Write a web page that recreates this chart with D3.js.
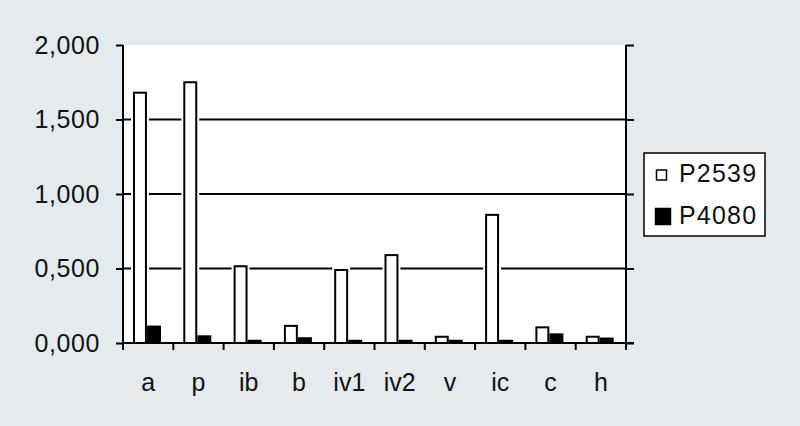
<!DOCTYPE html>
<html>
<head>
<meta charset="utf-8">
<script src="https://cdn.jsdelivr.net/npm/d3@7"></script>
<style>
  body { margin: 0; background: #e5eaef; }
  svg { display: block; }
</style>
</head>
<body>
<div id="chart"></div>
<script>
var categories = ["a", "p", "ib", "b", "iv1", "iv2", "v", "ic", "c", "h"];
var seriesNames = ["P2539", "P4080"];
var p2539 = [1.68, 1.75, 0.515, 0.115, 0.49, 0.59, 0.042, 0.86, 0.105, 0.042];
var p4080 = [0.11, 0.045, 0.015, 0.032, 0.015, 0.015, 0.015, 0.015, 0.058, 0.03];
var yTicks = [0, 0.5, 1.0, 1.5, 2.0];

function init(){
    var w = 800;
    var h = 426;
    var left = 123, right = 626, top = 45, bottom = 343;
    var font = "'Liberation Sans', Arial, sans-serif";

    var svg = d3.select("#chart")
                .append("svg")
                .attr("width", w)
                .attr("height", h);

    var xScale = d3.scaleBand()
                    .domain(categories)
                    .range([left, right]);
    var xInner = d3.scaleBand()
                    .domain(seriesNames)
                    .range([11, 37])
                    .paddingInner(0.15);
    var yScale = d3.scaleLinear()
                    .domain([0, 2])
                    .range([bottom, top]);

    var fmt = function(d){ return d3.format(",.3f")(d).replace(".", ","); };

    // plot area
    svg.append("rect")
        .attr("x", left).attr("y", top)
        .attr("width", right - left).attr("height", bottom - top)
        .attr("fill", "white");

    // gridlines
    svg.selectAll("line.grid")
        .data(yTicks.filter(function(d){ return d > 0 && d < 2; }))
        .enter()
        .append("line")
        .attr("class", "grid")
        .attr("x1", left).attr("x2", right)
        .attr("y1", function(d){ return yScale(d); })
        .attr("y2", function(d){ return yScale(d); })
        .attr("stroke", "black")
        .attr("stroke-width", 2);

    var rows = categories.map(function(c, i){
        return [{cat: c, s: "P2539", v: p2539[i]}, {cat: c, s: "P4080", v: p4080[i]}];
    });
    var bars = d3.merge(rows);

    // white halo behind bars (gridlines broken around bars)
    svg.selectAll("rect.halo")
        .data(bars)
        .enter()
        .append("rect")
        .attr("class", "halo")
        .attr("x", function(d){ return xScale(d.cat) + xInner(d.s) - 3; })
        .attr("y", function(d){ return yScale(d.v) - 3; })
        .attr("width", xInner.bandwidth() + 6)
        .attr("height", function(d){ return bottom - yScale(d.v) + 3; })
        .attr("fill", "white");

    svg.selectAll("rect.bar")
        .data(bars)
        .enter()
        .append("rect")
        .attr("class", "bar")
        .attr("x", function(d){ return xScale(d.cat) + xInner(d.s); })
        .attr("y", function(d){ return yScale(d.v); })
        .attr("width", xInner.bandwidth())
        .attr("height", function(d){ return bottom - yScale(d.v); })
        .attr("fill", function(d){ return d.s == "P2539" ? "white" : "black"; })
        .attr("stroke", "black")
        .attr("stroke-width", 2);

    // left axis
    var yAxis = d3.axisLeft(yScale)
                    .tickValues(yTicks)
                    .tickSize(7)
                    .tickPadding(16)
                    .tickFormat(fmt);
    var gy = svg.append("g")
                .attr("transform", "translate(" + left + ",0)")
                .call(yAxis);
    gy.select(".domain").attr("d", "M0," + top + "V" + bottom).attr("stroke-width", 2);
    gy.selectAll(".tick line").attr("stroke-width", 2);
    gy.selectAll(".tick text")
        .attr("font-family", font)
        .attr("font-size", "25px")
        .attr("letter-spacing", "0.6px")
        .attr("fill", "#111");

    // right axis (ticks only)
    var yAxisR = d3.axisRight(yScale)
                    .tickValues(yTicks)
                    .tickSize(8)
                    .tickFormat("");
    var gr = svg.append("g")
                .attr("transform", "translate(" + right + ",0)")
                .call(yAxisR);
    gr.select(".domain").attr("d", "M0," + top + "V" + bottom).attr("stroke-width", 2);
    gr.selectAll(".tick line").attr("stroke-width", 2);

    // bottom axis
    var xAxis = d3.axisBottom(xScale)
                    .tickSize(0)
                    .tickPadding(30);
    var gx = svg.append("g")
                .attr("transform", "translate(0," + bottom + ")")
                .call(xAxis);
    gx.select(".domain").attr("d", "M" + left + ",0H" + (right + 8)).attr("stroke-width", 2);
    gx.selectAll(".tick text")
        .attr("font-family", font)
        .attr("font-size", "25px")
        .attr("fill", "#111");

    // category separators
    svg.selectAll("line.sep")
        .data(categories.concat(["end"]))
        .enter()
        .append("line")
        .attr("class", "sep")
        .attr("x1", function(d, i){ return left + i * xScale.step(); })
        .attr("x2", function(d, i){ return left + i * xScale.step(); })
        .attr("y1", bottom)
        .attr("y2", bottom + 7)
        .attr("stroke", "black")
        .attr("stroke-width", 2);

    // legend
    var lg = svg.append("g");
    lg.append("rect")
        .attr("x", 644).attr("y", 153)
        .attr("width", 121).attr("height", 83)
        .attr("fill", "white")
        .attr("stroke", "black")
        .attr("stroke-width", 1.5);
    var items = lg.selectAll("g.item")
        .data(seriesNames)
        .enter()
        .append("g")
        .attr("class", "item")
        .attr("transform", function(d, i){ return "translate(0," + (i * 42) + ")"; });
    items.append("rect")
        .attr("x", function(d, i){ return i == 0 ? 656.5 : 655.5; })
        .attr("y", function(d, i){ return i == 0 ? 170 : 166.5; })
        .attr("width", function(d, i){ return i == 0 ? 10 : 15; })
        .attr("height", function(d, i){ return i == 0 ? 10 : 16; })
        .attr("fill", function(d, i){ return i == 0 ? "white" : "black"; })
        .attr("stroke", "black")
        .attr("stroke-width", 1.5);
    items.append("text")
        .attr("x", 679)
        .attr("y", 182)
        .text(function(d){ return d; })
        .attr("font-family", font)
        .attr("font-size", "25px")
        .attr("letter-spacing", "1.2px")
        .attr("fill", "#111");
}

window.onload = init;
</script>
</body>
</html>
